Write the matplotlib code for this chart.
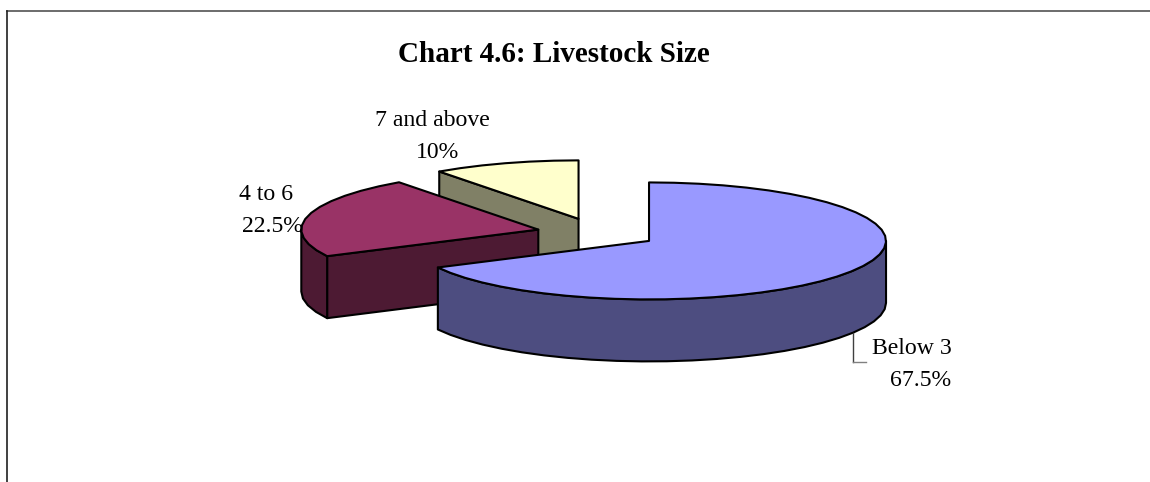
# exploded 3D style pie, drawn by hand because matplotlib has no extruded pie
import numpy as np
import matplotlib
matplotlib.use('Agg')
import matplotlib.pyplot as plt

categories = ['Below 3', '4 to 6', '7 and above']
values = [67.5, 22.5, 10]
top_colors = ['#9999FF', '#993366', '#FFFFCC']
side_colors = ['#4D4D80', '#4D1A33', '#808066']
title = 'Chart 4.6: Livestock Size'

plt.rcParams['font.family'] = ['Liberation Serif', 'DejaVu Serif']

# pie geometry in pixels
cx, cy = 597.3, 233.1
rx, ry = 237.0, 58.5
depth = 62.0
explode = 0.256
step = 6.0  # degrees per rim segment


def point(c, deg):
    # angle runs clockwise from 12 o'clock, squashed into an ellipse
    t = np.radians(deg)
    return c[0] + rx * np.sin(t), c[1] - ry * np.cos(t)


def arc(c, a, b):
    n = max(2, int(abs(b - a) / step) + 1)
    xs, ys = point(c, np.linspace(a, b, n))
    return list(xs), list(ys)


fig = plt.figure(figsize=(11.5, 4.82), dpi=100)
ax = fig.add_axes([0, 0, 1, 1])
ax.set_xlim(0, 1150)
ax.set_ylim(482, 0)
ax.axis('off')

# slice angles from the values
ends = np.cumsum(values) * 3.6
starts = ends - np.array(values) * 3.6
centers = []
for s, e in zip(starts, ends):
    mid = np.radians((s + e) / 2)
    centers.append((cx + explode * rx * np.sin(mid), cy - explode * ry * np.cos(mid)))

edge = dict(edgecolor='black', linewidth=1.5, joinstyle='round')

# back to front: 7 and above, 4 to 6, Below 3
for i in [2, 1, 0]:
    c = centers[i]
    s, e = starts[i], ends[i]

    # flat cut face, only where it looks toward the viewer
    if i in (1, 2):
        px, py = point(c, s)
        ax.fill([px, c[0], c[0], px], [py, c[1], c[1] + depth, py + depth],
                facecolor=side_colors[i], zorder=i * -3 + 7, **edge)

    # outer rim, lower half of the ellipse only
    a = max(s, 90)
    b = min(e, 270)
    if a < b:
        xs, ys = arc(c, a, b)
        ax.fill(xs + xs[::-1], ys + [y + depth for y in ys[::-1]],
                facecolor=side_colors[i], zorder=i * -3 + 7, **edge)

    # top of the slice
    xs, ys = arc(c, s, e)
    ax.fill([c[0]] + xs, [c[1]] + ys, facecolor=top_colors[i],
            zorder=i * -3 + 8, **edge)

# leader line for Below 3
ax.plot([853, 853], [333, 362], color='#404040', lw=1, zorder=9)
ax.plot([853, 866], [362, 362], color='#808080', lw=1, zorder=9)

fs = 17.1
ax.text(553.5, 54, title, ha='center', va='center', fontsize=21, fontweight='bold', color='black')
ax.text(952, 348, categories[0], ha='right', va='center', fontsize=fs, zorder=10)
ax.text(951, 381, '%g%%' % values[0], ha='right', va='center', fontsize=fs, zorder=10)
ax.text(293, 194.5, categories[1], ha='right', va='center', fontsize=fs, zorder=10)
ax.text(303, 226.5, '%g%%' % values[1], ha='right', va='center', fontsize=fs, zorder=-5)
ax.text(432.5, 120, categories[2], ha='center', va='center', fontsize=fs, zorder=10)
ax.text(438, 153, '%g%%' % values[2], ha='center', va='center', fontsize=fs, zorder=10)

# chart frame, top and left sides only
ax.plot([7, 1150], [10.5, 10.5], color='#606060', lw=1.3, zorder=1)
ax.plot([7.3, 7.3], [10.5, 482], color='#202020', lw=1.2, zorder=1)

fig.savefig('out.png', dpi=100)
